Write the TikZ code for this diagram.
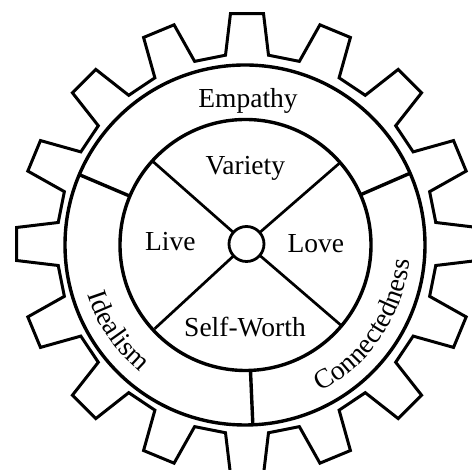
\documentclass[tikz,border=0pt]{standalone}
\usepackage{fontspec}
\setmainfont{Liberation Serif}
\usetikzlibrary{decorations.text}
\newcommand{\lblfont}{\fontsize{27.5pt}{30pt}\selectfont}
\tikzset{
  gearline/.style={line width=3pt, line join=miter},
  ringline/.style={line width=3.4pt},
  spokeline/.style={line width=2.7pt},
  lbl/.style={font=\lblfont, anchor=base, inner sep=0pt},
}
\begin{document}
\begin{tikzpicture}[x=1pt,y=1pt]
\useasboundingbox (0,0) rectangle (472,470);
\clip (0,0) rectangle (472,470);
\fill[white] (0,0) rectangle (472,470);
% gear outline
\begin{scope}[shift={(247,226)}]
\draw[gearline] (-6.5:190)
  \foreach \a in {0,22.5,...,337.5} {
    -- ({\a-6.5}:190) -- ({\a-4.1}:231) -- ({\a+4.1}:231) -- ({\a+6.5}:190)
  } -- cycle;
\end{scope}
% ring
\coordinate (rc) at (245,225);
\draw[ringline] (rc) circle[radius=180];
\draw[ringline] (245.5,225) circle[radius=125.5];
% ring dividers
\begin{scope}[shift={(245,225)}]
\draw[ringline] (157:125.5) -- (157:180);
\draw[ringline] (23.5:125.5) -- (23.5:180);
\draw[ringline] (272.5:125.5) -- (272.5:180);
\end{scope}
% hub and spokes
\node[draw, circle, line width=2.8pt, minimum size=35pt, inner sep=0pt] (hub) at (246.5,226) {};
\begin{scope}[shift={(246.5,226)}]
\foreach \a in {41,138.6,222.7,319.3} {
  \draw[spokeline] (\a:17.5) -- (\a:125);
}
\end{scope}
% labels
\node[lbl] (empathy) at (248,362.7) {Empathy};
\node[lbl] (variety) at (245.3,295) {Variety};
\node[lbl] (live) at (170.3,219.3) {Live};
\node[lbl] (love) at (315.8,217.7) {Love};
\node[lbl] (selfworth) at (245,133.3) {Self-Worth};
% curved labels
\path[decorate, decoration={text along path, text={|\lblfont|Idealism}, text align=center}]
  ([shift={(245,225)}]174:165) arc[start angle=174, end angle=254, radius=165];
\path[decorate, decoration={text along path, text={|\lblfont|Connectedness}, text align=center}]
  ([shift={(245,225)}]-79:165) arc[start angle=-79, end angle=11, radius=165];
\end{tikzpicture}
\end{document}
